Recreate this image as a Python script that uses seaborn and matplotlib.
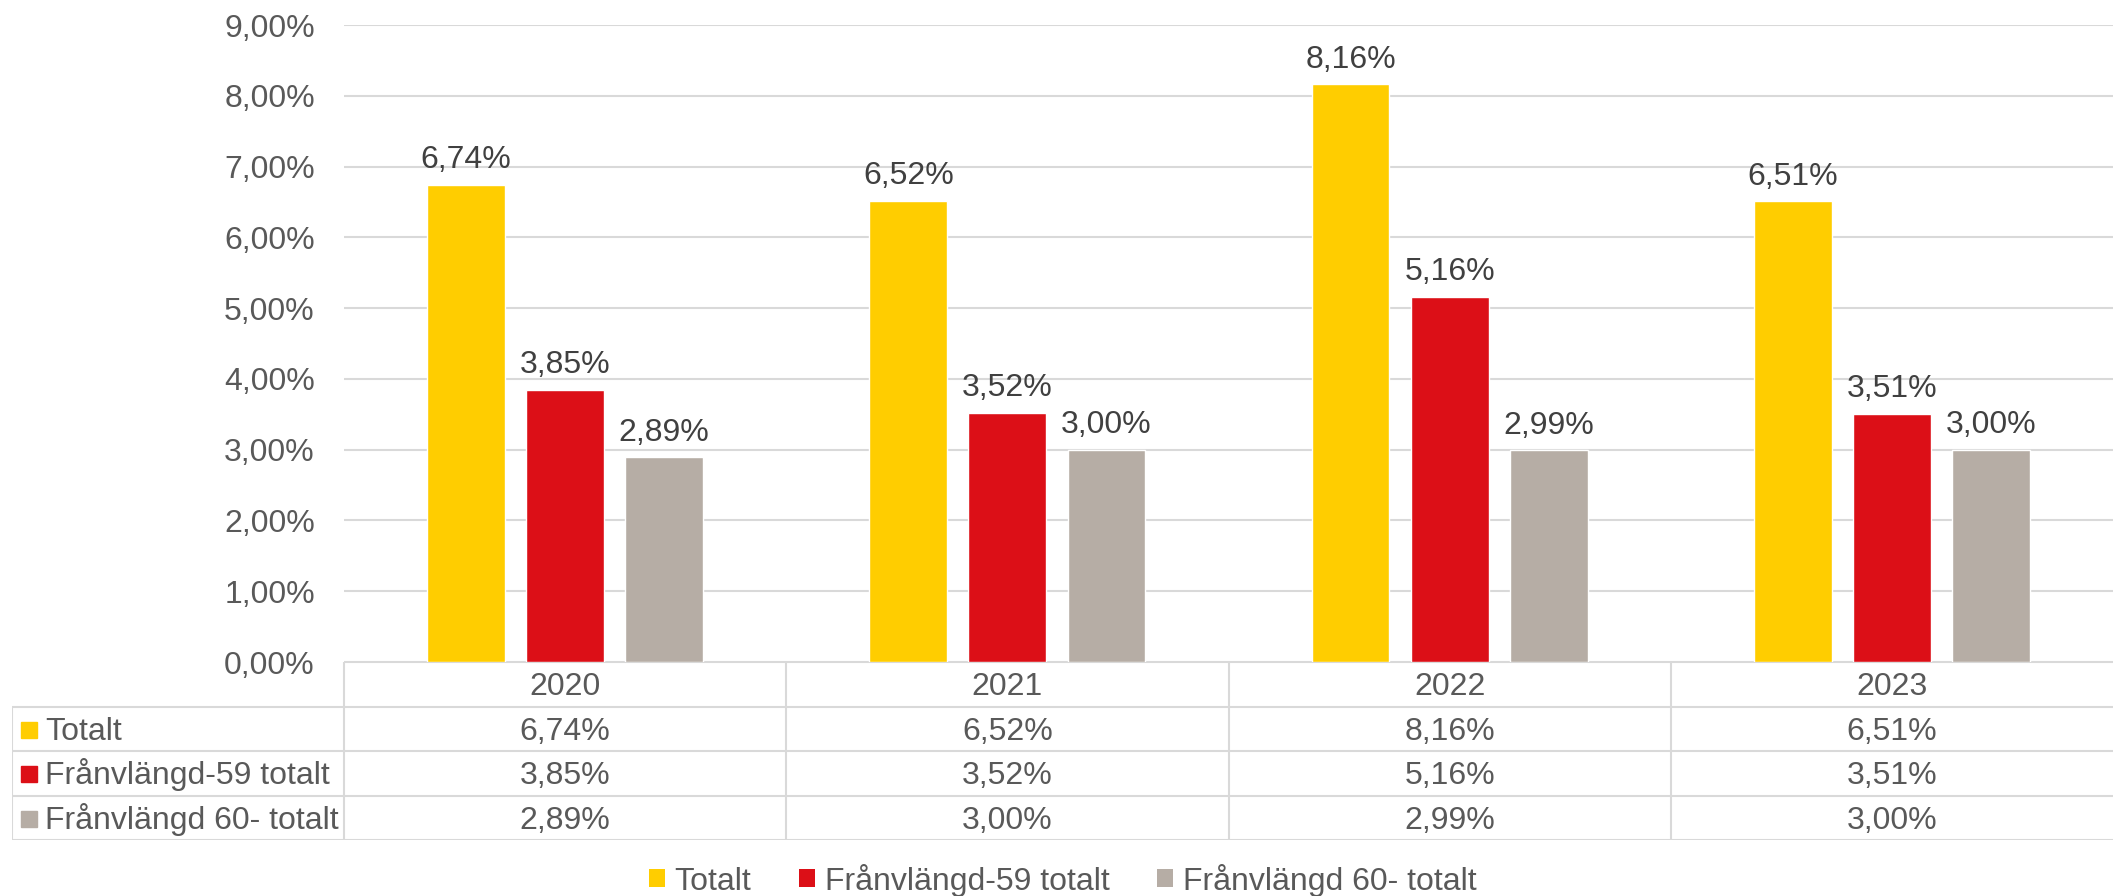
import matplotlib
matplotlib.use("Agg")
import matplotlib.pyplot as plt
from matplotlib.patches import Patch, Rectangle
import seaborn as sns
import pandas as pd

# data
years = ["2020", "2021", "2022", "2023"]
series = ["Totalt", "Frånvlängd-59 totalt", "Frånvlängd 60- totalt"]
totalt = [0.0674, 0.0652, 0.0816, 0.0651]
fr_59 = [0.0385, 0.0352, 0.0516, 0.0351]
fr_60 = [0.0289, 0.0300, 0.0299, 0.0300]
colors = ["#FFCD00", "#DC0F17", "#B6ADA5"]

values = [totalt, fr_59, fr_60]
df = pd.DataFrame({
    "year": [y for s in series for y in years],
    "series": [s for s in series for _ in years],
    "value": [v for vals in values for v in vals],
})


def pct(v):
    return f"{v * 100:.2f}".replace(".", ",") + "%"


sns.set_style("white")
plt.rcParams["font.family"] = ["Liberation Sans", "DejaVu Sans"]
FS = 23

W, H = 2113, 896
fig = plt.figure(figsize=(W / 100, H / 100), dpi=100)

# plot area in pixels
x0, x1 = 344, 2113
y_top, y_bot = 25, 662
ax = fig.add_axes([x0 / W, 1 - y_bot / H, (x1 - x0) / W, (y_bot - y_top) / H])

sns.barplot(data=df, x="year", y="value", hue="series", order=years,
            hue_order=series, palette=colors, width=0.672, gap=0.214,
            saturation=1, legend=False, ax=ax)

ax.set_ylim(0, 0.09)
ax.set_xlim(-0.5, 3.5)
ax.set_yticks([i / 100 for i in range(10)])
ax.set_yticklabels([pct(i / 100) for i in range(10)])
ax.tick_params(axis="y", length=0, pad=21, labelsize=FS, labelcolor="#595959")
ax.tick_params(axis="x", length=0, labelbottom=False)
ax.set_xlabel("")
ax.set_ylabel("")
ax.grid(axis="y", color="#D9D9D9", linewidth=1.5)
ax.set_axisbelow(True)
for sp in ax.spines.values():
    sp.set_visible(False)

for cont, vals in zip(ax.containers, values):
    ax.bar_label(cont, labels=[pct(v) for v in vals], padding=7,
                 fontsize=FS, color="#404040")

# data table under the chart
t_left, t_bot = 12, 840
cat_px = (x1 - x0) / 4
tax = fig.add_axes([t_left / W, 1 - t_bot / H, (x1 - t_left) / W, (t_bot - y_bot) / H])
left = 3.5 - (x1 - t_left) / cat_px
tax.set_xlim(left, 3.5)
tax.set_ylim(4, 0)
tax.axis("off")

line_kw = dict(color="#D9D9D9", linewidth=1.5, solid_capstyle="butt")
tax.plot([-0.5, 3.5], [0, 0], **line_kw)
for r in range(1, 5):
    tax.plot([left, 3.5], [r, r], **line_kw)
tax.plot([left, left], [1, 4], **line_kw)
for xv in [-0.5, 0.5, 1.5, 2.5]:
    tax.plot([xv, xv], [0, 4], **line_kw)

base = 0.75  # baseline offset inside each row
for i, y in enumerate(years):
    tax.text(i, base, y, ha="center", va="baseline", fontsize=FS, color="#595959")

mk_x = left + (21 - t_left) / cat_px
txt_x = left + (45 - t_left) / cat_px
mk_w = 16 / cat_px
mk_h = 16 / ((t_bot - y_bot) / 4)
for r, (name, vals, c) in enumerate(zip(series, values, colors), start=1):
    tax.add_patch(Rectangle((mk_x, r + 0.52 - mk_h / 2), mk_w, mk_h, color=c))
    tax.text(txt_x, r + base, name, ha="left", va="baseline", fontsize=FS, color="#595959")
    for i, v in enumerate(vals):
        tax.text(i, r + base, pct(v), ha="center", va="baseline", fontsize=FS, color="#595959")

handles = [Patch(facecolor=c, edgecolor="none", label=s) for s, c in zip(series, colors)]
fig.legend(handles=handles, loc="center", bbox_to_anchor=(0.503, 1 - 880 / H), ncol=3,
           frameon=False, fontsize=FS, labelcolor="#595959", handlelength=0.5,
           handleheight=0.5, handletextpad=0.3, columnspacing=1.5, borderpad=0)

fig.savefig("out.png", dpi=100)
